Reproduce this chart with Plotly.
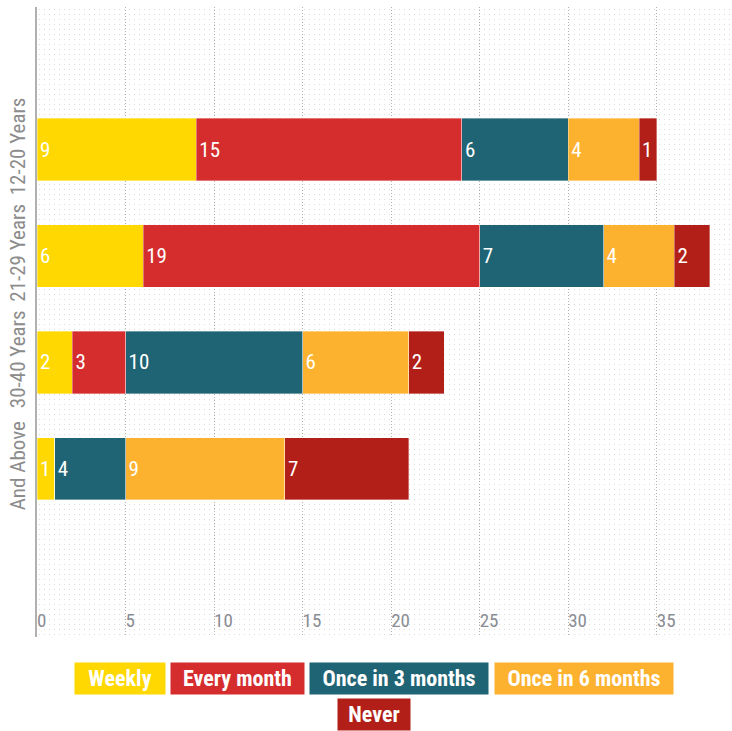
import base64
import plotly.graph_objects as go

# Survey: how often each age group does the activity
age_groups = ["12-20 Years", "21-29 Years", "30-40 Years", "And Above"]
frequencies = ["Weekly", "Every month", "Once in 3 months", "Once in 6 months", "Never"]
weekly = [9, 6, 2, 1]
every_month = [15, 19, 3, 0]
once_3_months = [6, 7, 10, 4]
once_6_months = [4, 4, 6, 9]
never = [1, 2, 2, 7]
x_ticks = [0, 5, 10, 15, 20, 25, 30, 35]

series = [weekly, every_month, once_3_months, once_6_months, never]
colors = ["#FED800", "#D52D2E", "#1F6474", "#FDB22F", "#B21F18"]

FONT = "Liberation Sans Narrow, Roboto Condensed, Arial Narrow, sans-serif"

W, H = 732, 731
ML, MR, MT, MB = 37, 0, 7, 94
PW, PH = W - ML - MR, H - MT - MB

fig = go.Figure()
for name, vals, col in zip(frequencies, series, colors):
    fig.add_trace(go.Bar(
        name=name,
        y=age_groups,
        x=vals,
        orientation="h",
        marker=dict(color=col, line=dict(width=0.6, color="rgba(255,255,255,0.6)")),
        width=0.585,
        text=[str(v) if v else "" for v in vals],
        textposition="inside",
        insidetextanchor="start",
        textfont=dict(family=FONT, size=21, color="white"),
        hoverinfo="x+name",
    ))

# fine dotted texture behind the plot area
svg = (
    f'<svg xmlns="http://www.w3.org/2000/svg" width="{PW}" height="{PH}">'
    '<defs><pattern id="d" width="5" height="5" patternUnits="userSpaceOnUse">'
    '<rect x="2" y="2" width="1" height="1" fill="#dcdcdc"/></pattern></defs>'
    f'<rect width="{PW}" height="{PH}" fill="url(#d)"/></svg>'
)
uri = "data:image/svg+xml;base64," + base64.b64encode(svg.encode()).decode()

# legend drawn as coloured boxes with white text (pixel centres / box widths)
legend_cx = [120, 237.5, 399, 584, 374]
legend_cy = [678.5, 678.5, 678.5, 678.5, 714.5]
legend_w = [90, 133, 178, 178, 72]
legend_h = 31
annotations = []
for name, col, cx, cy, bw in zip(frequencies, colors, legend_cx, legend_cy, legend_w):
    annotations.append(dict(
        text=f"<b>{name}</b>",
        x=(cx - ML) / PW, y=(H - MB - cy) / PH,
        xref="paper", yref="paper",
        xanchor="center", yanchor="middle",
        showarrow=False,
        bgcolor=col,
        borderpad=0,
        width=bw, height=legend_h,
        align="center", valign="middle",
        font=dict(family=FONT, size=22, color="white"),
    ))

fig.update_layout(
    width=W, height=H,
    margin=dict(l=ML, r=MR, t=MT, b=MB),
    barmode="stack",
    showlegend=False,
    plot_bgcolor="white",
    paper_bgcolor="white",
    images=[dict(source=uri, xref="paper", yref="paper", x=0, y=1,
                 sizex=1, sizey=1, sizing="stretch", layer="below",
                 xanchor="left", yanchor="top")],
    annotations=annotations,
    xaxis=dict(
        range=[0, 39.25],
        tickvals=x_ticks,
        ticklabelposition="inside right",
        tickfont=dict(family=FONT, size=19, color="#8a8d94"),
        showgrid=True, gridcolor="#b0b0b0", griddash="1px,2px", gridwidth=1,
        zeroline=False, showline=False,
    ),
    yaxis=dict(
        range=[4.58, -1.34],
        tickvals=age_groups,
        tickangle=-90,
        tickfont=dict(family=FONT, size=21, color="#8c8c8c"),
        showgrid=False, zeroline=False,
        showline=True, linecolor="#b0b0b0", linewidth=2,
        ticklabelstandoff=2,
    ),
)

fig.write_html("out.html")
